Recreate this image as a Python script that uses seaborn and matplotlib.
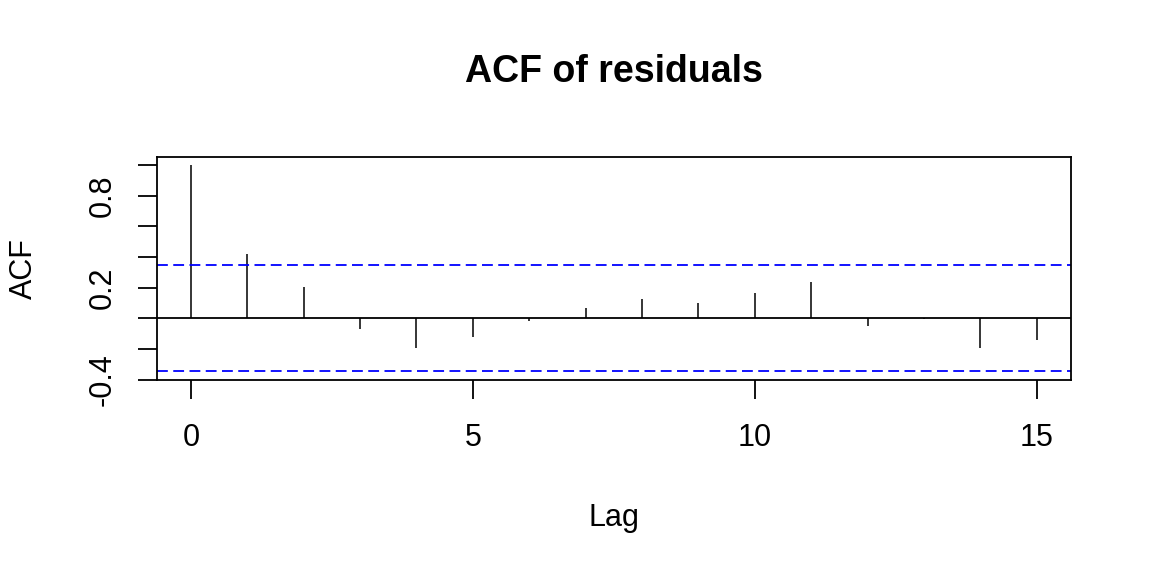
import numpy as np
import matplotlib
matplotlib.use("Agg")
import matplotlib.pyplot as plt
import seaborn as sns

# ACF of residuals
lags = [0, 1, 2, 3, 4, 5, 6, 7, 8, 9, 10, 11, 12, 13, 14, 15]
acf_vals = [1.0, 0.422, 0.202, -0.070, -0.194, -0.122, -0.017, 0.065,
            0.124, 0.098, 0.163, 0.235, -0.050, -0.003, -0.194, -0.141]
conf_limit = 0.346
x_ticks = [0, 5, 10, 15]
y_ticks = [-0.4, -0.2, 0.0, 0.2, 0.4, 0.6, 0.8, 1.0]
y_tick_labels = ["-0.4", "", "", "0.2", "", "", "0.8", ""]

sns.set_theme(style="ticks", rc={"text.color": "black", "axes.labelcolor": "black",
                                 "xtick.color": "black", "ytick.color": "black",
                                 "axes.edgecolor": "black"})
plt.rcParams['font.family'] = ['Liberation Sans', 'DejaVu Sans']

fig = plt.figure(figsize=(11.52, 5.76), dpi=100)
ax = fig.add_axes([0.1363, 0.3408, 0.7931, 0.3872])

ax.vlines(lags, 0, acf_vals, color="black", linewidth=1.1)
ax.axhline(0, color="black", linewidth=1.3)
for c in (conf_limit, -conf_limit):
    ax.axhline(c, color="#0000FF", linewidth=1.3, linestyle=(0, (6, 3)))

# R style 4% padding around the data range
lo = min(min(acf_vals), -conf_limit)
hi = max(max(acf_vals), conf_limit)
ax.set_ylim(lo - 0.04 * (hi - lo), hi + 0.04 * (hi - lo))
ax.set_xlim(lags[0] - 0.04 * (lags[-1] - lags[0]), lags[-1] + 0.04 * (lags[-1] - lags[0]))

ax.set_xticks(x_ticks)
ax.set_xticklabels([str(t) for t in x_ticks])
ax.set_yticks(y_ticks)
ax.set_yticklabels(y_tick_labels, rotation=90, va="center")

for s in ax.spines.values():
    s.set_visible(True)
    s.set_color("black")
    s.set_linewidth(1.3)

ax.tick_params(axis="both", direction="out", length=13.5, width=1.3,
               colors="black", labelsize=22)
ax.tick_params(axis="x", pad=18)
ax.tick_params(axis="y", pad=15)

ax.set_title("ACF of residuals", fontsize=27, fontweight="bold", pad=54, color="black")
ax.set_xlabel("Lag", fontsize=22)
ax.set_ylabel("ACF", fontsize=22)
ax.xaxis.set_label_coords(0.5, -0.62)
ax.xaxis.label.set_va("center")
ax.yaxis.set_label_coords(-0.1456, 0.5)
ax.yaxis.label.set_va("center")

fig.savefig("out.png", dpi=100, facecolor="white")
